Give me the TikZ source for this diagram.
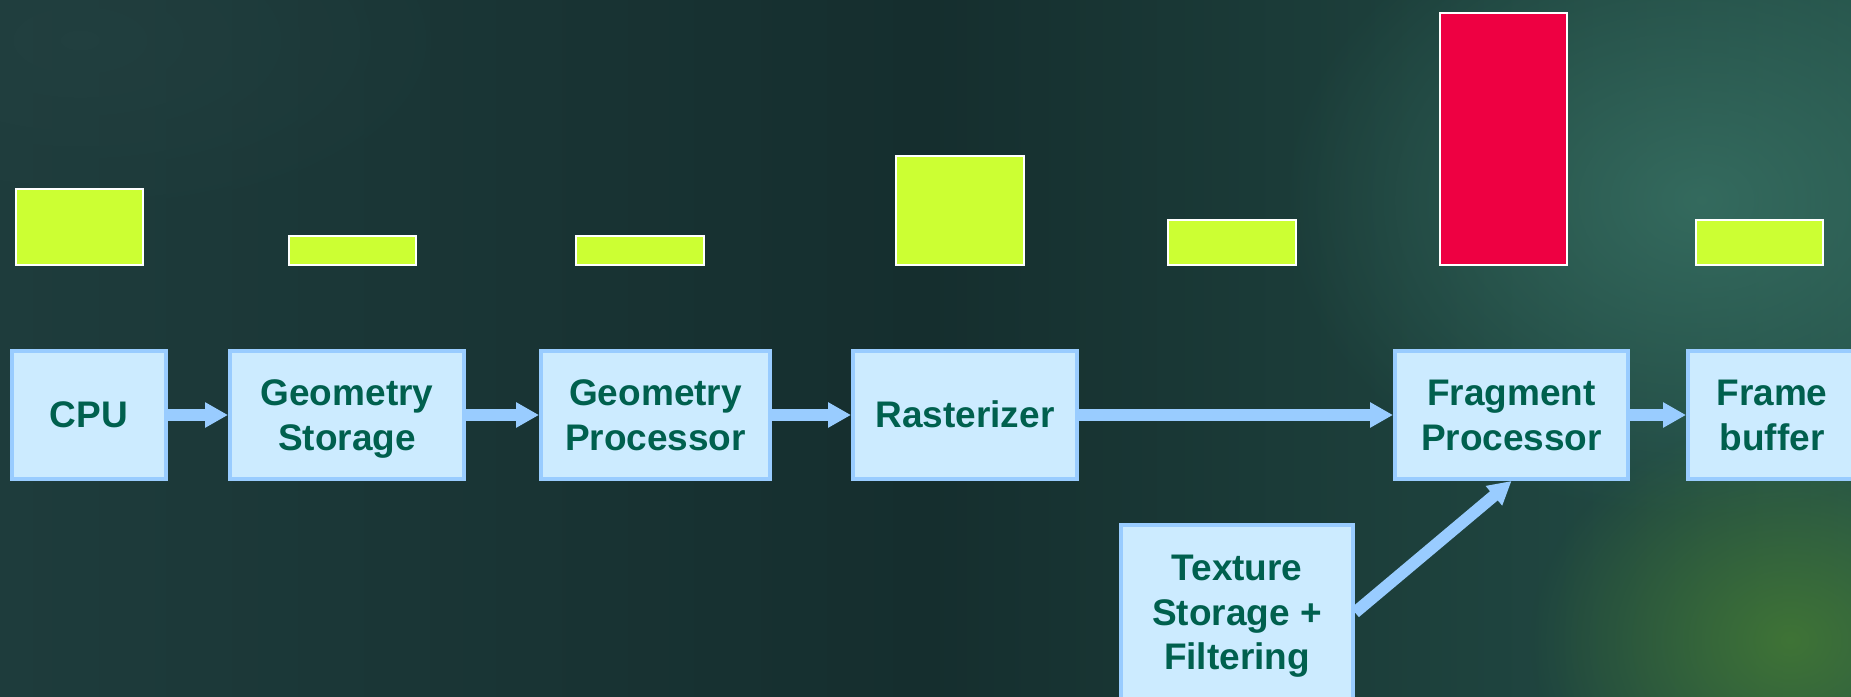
\documentclass[tikz,border=0pt]{standalone}
\usepackage{fontspec}
\setmainfont{Liberation Sans}
\usetikzlibrary{arrows.meta,fadings}
\definecolor{bgmid}{RGB}{21,46,46}
\definecolor{bgleft}{RGB}{30,60,60}
\definecolor{bgright}{RGB}{36,80,72}
\definecolor{glowA}{RGB}{60,120,105}
\definecolor{glowB}{RGB}{70,125,50}
\definecolor{glowC}{RGB}{36,66,66}
\definecolor{boxfill}{RGB}{204,235,255}
\definecolor{boxline}{RGB}{153,204,255}
\definecolor{txt}{RGB}{0,96,78}
\definecolor{barY}{RGB}{204,255,51}
\definecolor{barR}{RGB}{238,0,66}
\newcommand\lnstrut{\rule[-0.212em]{0pt}{1.117em}}
\tikzfading[name=softglow, inner color=transparent!0, outer color=transparent!100]
\tikzset{
  stage/.style={draw=boxline, fill=boxfill, line width=2pt, text=txt,
    font=\fontsize{18.5pt}{22.25pt}\selectfont\bfseries, align=center,
    inner sep=0pt, minimum height=64pt},
  bar/.style={draw=white, line width=1pt},
  flow/.style={draw=boxline, line width=6pt,
    -{Triangle[length=11.5pt,width=12pt]}},
}
\begin{document}
\begin{tikzpicture}[x=0.5pt,y=-0.5pt]
\useasboundingbox (0,0) rectangle (1851,696);
\clip (0,0) rectangle (1851,696);
% background
\shade[left color=bgleft, right color=bgright, middle color=bgmid] (0,0) rectangle (1851,696);
\fill[glowA, path fading=softglow, opacity=0.7] (1700,200) ellipse (420 and 320);
\fill[glowB, path fading=softglow, opacity=0.8] (1790,640) ellipse (260 and 220);
\fill[glowC, path fading=softglow, opacity=0.6] (80,40) ellipse (400 and 200);
% bars
\fill[barY, bar] (16,189) rectangle (143,265);
\fill[barY, bar] (289,236) rectangle (416,265);
\fill[barY, bar] (576,236) rectangle (704,265);
\fill[barY, bar] (896,156) rectangle (1024,265);
\fill[barY, bar] (1168,220) rectangle (1296,265);
\fill[barR, bar] (1440,13) rectangle (1567,265);
\fill[barY, bar] (1696,220) rectangle (1823,265);
% stages
\node[stage, minimum width=77pt] (cpu) at (89,415) {\lnstrut CPU};
\node[stage, minimum width=117pt] (gs) at (347,415) {\lnstrut Geometry\\\lnstrut Storage};
\node[stage, minimum width=114.5pt] (gp) at (655.5,415) {\lnstrut Geometry\\\lnstrut Processor};
\node[stage, minimum width=112pt] (ras) at (965,415) {\lnstrut Rasterizer};
\node[stage, minimum width=116.5pt] (frag) at (1511.5,415) {\lnstrut Fragment\\\lnstrut Processor};
\node[stage, minimum width=84pt] (fb) at (1772,415) {\lnstrut Frame\\\lnstrut buffer};
\node[stage, minimum width=116pt, minimum height=87.5pt] (tex) at (1237,612.5) {\lnstrut Texture\\\lnstrut Storage +\\\lnstrut Filtering};
% connectors
\draw[flow] (cpu) -- (gs);
\draw[flow] (gs) -- (gp);
\draw[flow] (gp) -- (ras);
\draw[flow] (ras) -- (frag);
\draw[flow] (frag) -- (fb);
\draw[flow] (tex.east) -- (frag.south);
\end{tikzpicture}
\end{document}
